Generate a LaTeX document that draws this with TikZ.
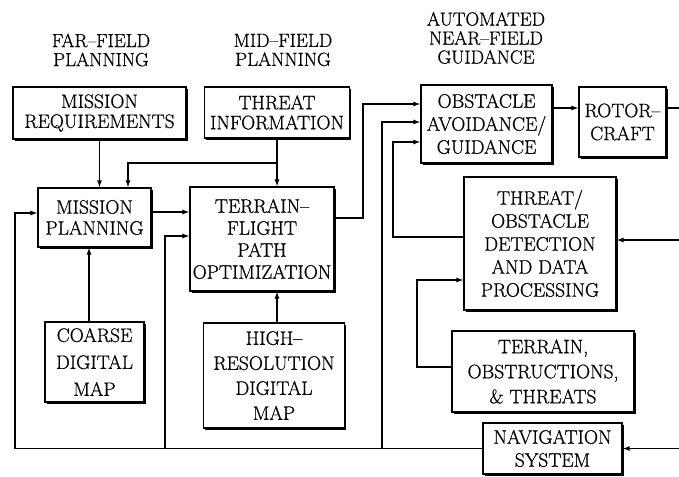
\documentclass[tikz,border=0pt]{standalone}
\usepackage{fontspec}
\newfontfamily\plotfont{Latin Modern Roman}[FakeBold=0.7,Ligatures=TeX]
\usetikzlibrary{arrows.meta,shadows}
\begin{document}
\begin{tikzpicture}[x=1pt,y=-1pt,
  box/.style={draw, line width=1.1pt, fill=white, align=center, inner sep=0pt,
    font=\plotfont\fontsize{19.5}{22}\selectfont,
    drop shadow={shadow xshift=1.6pt, shadow yshift=-1.6pt, fill=black, opacity=1}},
  bs/.style={font=\plotfont\fontsize{19.5}{#1}\selectfont},
  ttl/.style={align=center, inner sep=0pt, font=\plotfont\fontsize{19}{19}\selectfont},
  ln/.style={line width=1.2pt},
  arr/.style={ln, -{Latex[length=7pt,width=5pt]}}]
\useasboundingbox (0,0) rectangle (679,476);

% titles
\node[ttl] (t1) at (101,50) {FAR–FIELD\\PLANNING};
\node[ttl] (t2) at (283,50) {MID–FIELD\\PLANNING};
\node[ttl] (t3) at (486,38) {AUTOMATED\\NEAR–FIELD\\GUIDANCE};

% boxes
\node[box, bs=20, minimum width=173pt, minimum height=52pt] (MR) at (99.5,113) {MISSION\\REQUIREMENTS};
\node[box, bs=20, minimum width=145pt, minimum height=51pt] (TI) at (277,112.5) {THREAT\\INFORMATION};
\node[box, bs=21, minimum width=113pt, minimum height=59pt] (MP) at (94.5,217.5) {MISSION\\PLANNING};
\node[box, bs=22, minimum width=144pt, minimum height=104pt] (TF) at (262,239) {TERRAIN–\\FLIGHT\\PATH\\OPTIMIZATION};
\node[box, bs=27, minimum width=99pt, minimum height=80pt] (CD) at (94.5,362) {COARSE\\DIGITAL\\MAP};
\node[box, bs=25, minimum width=141pt, minimum height=105pt] (HR) at (274,375.5) {HIGH–\\RESOLUTION\\DIGITAL\\MAP};
\node[box, bs=23, minimum width=131pt, minimum height=78pt] (OA) at (486.5,124) {OBSTACLE\\AVOIDANCE/\\GUIDANCE};
\node[box, bs=23, minimum width=87pt, minimum height=70pt] (RC) at (622.5,122) {ROTOR–\\CRAFT};
\node[box, bs=23, minimum width=152pt, minimum height=133pt] (TD) at (540,243.5) {THREAT/\\OBSTACLE\\DETECTION\\AND DATA\\PROCESSING};
\node[box, bs=25, minimum width=182pt, minimum height=81pt] (TO) at (543,371.5) {TERRAIN,\\OBSTRUCTIONS,\\\& THREATS};
\node[box, bs=23, minimum width=139pt, minimum height=51pt] (NS) at (552.5,448.5) {NAVIGATION\\SYSTEM};

% connectors
\draw[arr] (MR.south) -- (MR.south |- MP.north);
\draw[arr] (TI.south) -- (TI.south |- TF.north);
\coordinate (j1) at (TI.south |- 0,163);
\draw[arr] (j1) -- (128,163) -- (128,0 |- MP.north);
\draw[arr] (MP.east |- 0,212) -- (TF.west |- 0,212);
\draw[arr] (89,0 |- CD.north) -- (89,0 |- MP.south);
\draw[arr] (277,0 |- HR.north) -- (277,0 |- TF.south);

\draw[arr] (NS.west) -- (15,0 |- NS.west) -- (15,213) -- (MP.west |- 0,213);
\draw[arr] (165,0 |- NS.west) -- (165,236) -- (TF.west |- 0,236);
\draw[arr] (382,0 |- NS.west) -- (382,122) -- (OA.west |- 0,122);
\draw[arr] (TF.east |- 0,218) -- (363,218) -- (363,104) -- (OA.west |- 0,104);
\draw[arr] (TD.west |- 0,237) -- (393,237) -- (393,142) -- (OA.west |- 0,142);
\draw[arr] (OA.east |- 0,108) -- (RC.west |- 0,108);
\coordinate (e1) at (679,108);
\draw[ln] (RC.east |- e1) -- (e1);
\coordinate (e2) at (679,240);
\draw[arr] (e2) -- (TD.east |- e2);
\draw[arr] (TO.west |- 0,367) -- (417,367) -- (417,280) -- (TD.west |- 0,280);
\coordinate (e3) at (679,0 |- NS.east);
\draw[arr] (e3) -- (NS.east);
\end{tikzpicture}
\end{document}
